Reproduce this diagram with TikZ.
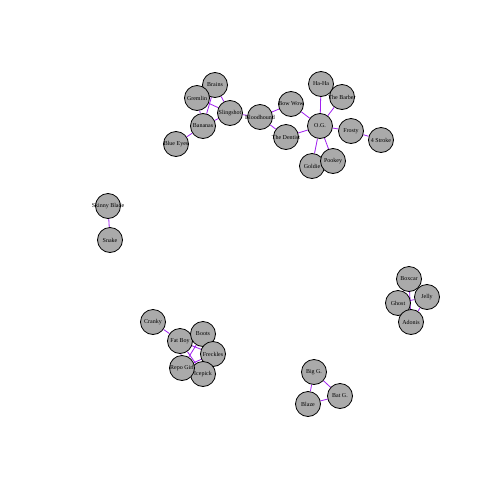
\documentclass[tikz,border=0pt]{standalone}
\usepackage{fontspec}
\setmainfont{Liberation Serif}
\usetikzlibrary{backgrounds}
\definecolor{nodefill}{RGB}{170,170,170}
\definecolor{edgecol}{RGB}{160,32,240}
\newcommand{\vlab}[1]{\makebox[0pt]{#1}}
\tikzset{
  vtx/.style={circle,draw=black,line width=0.8pt,fill=nodefill,minimum size=25pt,inner sep=0pt,font=\fontsize{6}{7}\selectfont},
  lnk/.style={draw=edgecol,line width=0.8pt}
}
\begin{document}
\begin{tikzpicture}[x=1pt,y=-1pt]
\useasboundingbox (0,0) rectangle (504,504);
% cluster 1
\node[vtx] (brains) at (215,85) {\vlab{Brains}};
\node[vtx] (gremlin) at (197,98) {\vlab{Gremlin}};
\node[vtx] (sling) at (230,113) {\vlab{Slingshot}};
\node[vtx] (bananas) at (203,126) {\vlab{Bananas}};
\node[vtx] (blue) at (176,144) {\vlab{Blue Eyes}};
\node[vtx] (blood) at (260,117) {\vlab{Bloodhound}};
\node[vtx] (bowwow) at (291,104) {\vlab{Bow Wow}};
\node[vtx] (dentist) at (286,137) {\vlab{The Dentist}};
\node[vtx] (haha) at (321,84) {\vlab{Ha-Ha}};
\node[vtx] (barber) at (342,97) {\vlab{The Barber}};
\node[vtx] (og) at (320,126) {\vlab{O.G.}};
\node[vtx] (frosty) at (351,131) {\vlab{Frosty}};
\node[vtx] (stroke) at (381,140) {\vlab{4 Stroke}};
\node[vtx] (goldie) at (312,166) {\vlab{Goldie}};
\node[vtx] (pookey) at (333,161) {\vlab{Pookey}};
% snake
\node[vtx] (skinny) at (108,206) {\vlab{Skinny Blade}};
\node[vtx] (snake) at (110,240) {\vlab{Snake}};
% boxcar
\node[vtx] (boxcar) at (409,279) {\vlab{Boxcar}};
\node[vtx] (ghost) at (398,303) {\vlab{Ghost}};
\node[vtx] (jelly) at (427,297) {\vlab{Jelly}};
\node[vtx] (adonis) at (411,322) {\vlab{Adonis}};
% fat boy
\node[vtx] (cranky) at (153,322) {\vlab{Cranky}};
\node[vtx] (fatboy) at (180,341) {\vlab{Fat Boy}};
\node[vtx] (boots) at (203,334) {\vlab{Boots}};
\node[vtx] (freckles) at (213,354) {\vlab{Freckles}};
\node[vtx] (icepick) at (203,374) {\vlab{Icepick}};
\node[vtx] (repo) at (182,368) {\vlab{Repo Girl}};
% big g
\node[vtx] (bigg) at (314,372) {\vlab{Big G.}};
\node[vtx] (batg) at (340,396) {\vlab{Bat G.}};
\node[vtx] (blaze) at (308,404) {\vlab{Blaze}};
\begin{pgfonlayer}{background}
\fill[white] (0,0) rectangle (504,504);
\path[lnk] (brains)--(sling) (brains)--(bananas) (gremlin)--(sling) (gremlin)--(bananas)
 (bananas)--(sling) (bananas)--(blue) (sling)--(blood)
 (blood)--(bowwow) (blood)--(dentist) (bowwow)--(og) (dentist)--(og)
 (og)--(haha) (og)--(barber) (og)--(frosty) (frosty)--(stroke) (og)--(goldie) (og)--(pookey)
 (skinny)--(snake)
 (boxcar)--(ghost) (boxcar)--(adonis) (ghost)--(jelly) (jelly)--(adonis) (ghost)--(adonis)
 (cranky)--(fatboy) (fatboy)--(boots) (fatboy)--(freckles) (fatboy)--(icepick) (fatboy)--(repo)
 (boots)--(freckles) (boots)--(repo) (boots)--(icepick) (freckles)--(repo) (freckles)--(icepick) (repo)--(icepick)
 (bigg)--(batg) (bigg)--(blaze) (blaze)--(batg);
\end{pgfonlayer}
\end{tikzpicture}
\end{document}
